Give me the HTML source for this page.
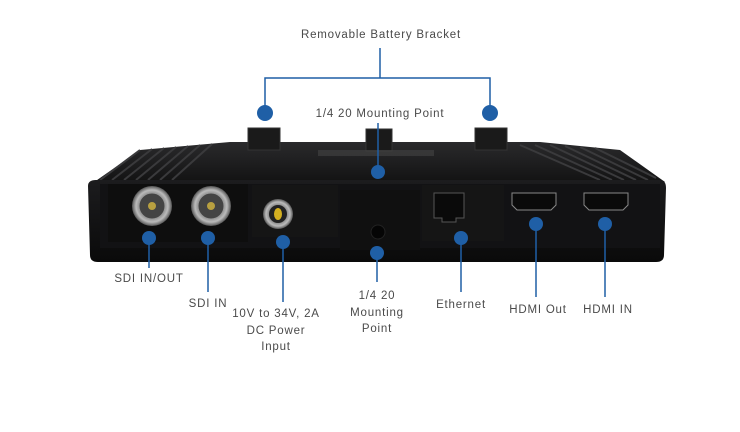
<!DOCTYPE html>
<html><head><style>
body{margin:0;background:#fff;width:740px;height:427px;overflow:hidden;font-family:"Liberation Sans",sans-serif}
</style></head><body>
<svg width="740" height="427" viewBox="0 0 740 427" xmlns="http://www.w3.org/2000/svg">
<defs>
<linearGradient id="top" x1="0" y1="0" x2="0" y2="1"><stop offset="0" stop-color="#2a2a2c"/><stop offset="1" stop-color="#111"/></linearGradient>
<linearGradient id="face" x1="0" y1="0" x2="0" y2="1"><stop offset="0" stop-color="#1c1c1e"/><stop offset="1" stop-color="#0a0a0a"/></linearGradient>
<radialGradient id="bnc"><stop offset="0" stop-color="#333"/><stop offset="0.5" stop-color="#777"/><stop offset="0.8" stop-color="#bbb"/><stop offset="1" stop-color="#555"/></radialGradient>
</defs>
<!-- top surface -->
<polygon points="90,185 140,150 230,142 540,142 620,150 665,182" fill="url(#top)"/>
<g stroke="#3a3a3c" stroke-width="2">
<line x1="100" y1="180" x2="140" y2="150"/><line x1="112" y1="180" x2="152" y2="149"/><line x1="124" y1="180" x2="164" y2="148"/><line x1="136" y1="180" x2="176" y2="147"/><line x1="148" y1="180" x2="188" y2="146"/><line x1="160" y1="180" x2="200" y2="145"/><line x1="172" y1="180" x2="212" y2="144"/>
<line x1="520" y1="145" x2="600" y2="180"/><line x1="535" y1="145" x2="612" y2="180"/><line x1="550" y1="145" x2="624" y2="180"/><line x1="565" y1="146" x2="636" y2="180"/><line x1="580" y1="147" x2="648" y2="180"/><line x1="595" y1="148" x2="656" y2="178"/>
</g>
<!-- bracket tabs -->
<rect x="248" y="128" width="32" height="22" fill="#1a1a1a" stroke="#333"/>
<rect x="366" y="129" width="26" height="22" fill="#1a1a1a" stroke="#333"/>
<rect x="475" y="128" width="32" height="22" fill="#1a1a1a" stroke="#333"/>
<rect x="318" y="150" width="116" height="6" fill="#444" opacity="0.6"/>
<!-- front face -->
<path d="M88,186 Q88,180 96,180 L660,180 Q666,180 666,188 L664,255 Q664,262 656,262 L98,262 Q90,262 90,255 Z" fill="url(#face)"/>
<rect x="100" y="184" width="560" height="64" fill="#121214"/>
<rect x="108" y="184" width="140" height="58" fill="#0e0e0e"/>
<rect x="252" y="185" width="86" height="52" fill="#151515"/>
<rect x="340" y="190" width="80" height="60" fill="#101010"/>
<rect x="422" y="185" width="82" height="56" fill="#151515"/>
<!-- BNCs -->
<circle cx="152" cy="206" r="20" fill="url(#bnc)"/><circle cx="152" cy="206" r="13" fill="#444" stroke="#999"/><circle cx="152" cy="206" r="4" fill="#b8a040"/>
<circle cx="211" cy="206" r="20" fill="url(#bnc)"/><circle cx="211" cy="206" r="13" fill="#444" stroke="#999"/><circle cx="211" cy="206" r="4" fill="#b8a040"/>
<!-- power -->
<circle cx="278" cy="214" r="15" fill="url(#bnc)"/><circle cx="278" cy="214" r="9" fill="#222"/><ellipse cx="278" cy="214" rx="4" ry="6" fill="#d4b020"/>
<!-- screw -->
<circle cx="378" cy="232" r="7" fill="#050505" stroke="#222"/>
<!-- ethernet -->
<path d="M396,193 h30 v25 h-8 v4 h-14 v-4 h-8 z" transform="translate(38,0)" fill="#0a0a0a" stroke="#555"/>
<!-- HDMI -->
<path d="M512,193 h44 v12 l-5,5 h-34 l-5,-5 z" fill="#0a0a0a" stroke="#888"/>
<path d="M584,193 h44 v12 l-5,5 h-34 l-5,-5 z" fill="#0a0a0a" stroke="#888"/>
<!-- annotations -->
<g stroke="#1f5fa6" stroke-width="1.5" fill="none">
<line x1="380" y1="48" x2="380" y2="78"/>
<polyline points="265,113 265,78 490,78 490,113"/>
<line x1="378" y1="123" x2="378" y2="172"/>
<line x1="149" y1="238" x2="149" y2="268"/>
<line x1="208" y1="238" x2="208" y2="292"/>
<line x1="283" y1="242" x2="283" y2="302"/>
<line x1="377" y1="253" x2="377" y2="282"/>
<line x1="461" y1="238" x2="461" y2="292"/>
<line x1="536" y1="224" x2="536" y2="297"/>
<line x1="605" y1="224" x2="605" y2="297"/>
</g>
<g fill="#1f5fa6">
<circle cx="265" cy="113" r="8"/><circle cx="490" cy="113" r="8"/><circle cx="378" cy="172" r="7"/>
<circle cx="149" cy="238" r="7"/><circle cx="208" cy="238" r="7"/><circle cx="283" cy="242" r="7"/>
<circle cx="377" cy="253" r="7"/><circle cx="461" cy="238" r="7"/><circle cx="536" cy="224" r="7"/><circle cx="605" cy="224" r="7"/>
</g>
<g fill="#4a4a4a" font-size="11.5" letter-spacing="0.8" text-anchor="middle" font-family="Liberation Sans,sans-serif">
<text x="381" y="38">Removable Battery Bracket</text>
<text x="380" y="117">1/4 20 Mounting Point</text>
<text x="149" y="282">SDI IN/OUT</text>
<text x="208" y="307">SDI IN</text>
<text x="276" y="317">10V to 34V, 2A</text>
<text x="276" y="334">DC Power</text>
<text x="276" y="350">Input</text>
<text x="377" y="299">1/4 20</text>
<text x="377" y="316">Mounting</text>
<text x="377" y="332">Point</text>
<text x="461" y="308">Ethernet</text>
<text x="538" y="313">HDMI Out</text>
<text x="608" y="313">HDMI IN</text>
</g>
</svg>
</body></html>
